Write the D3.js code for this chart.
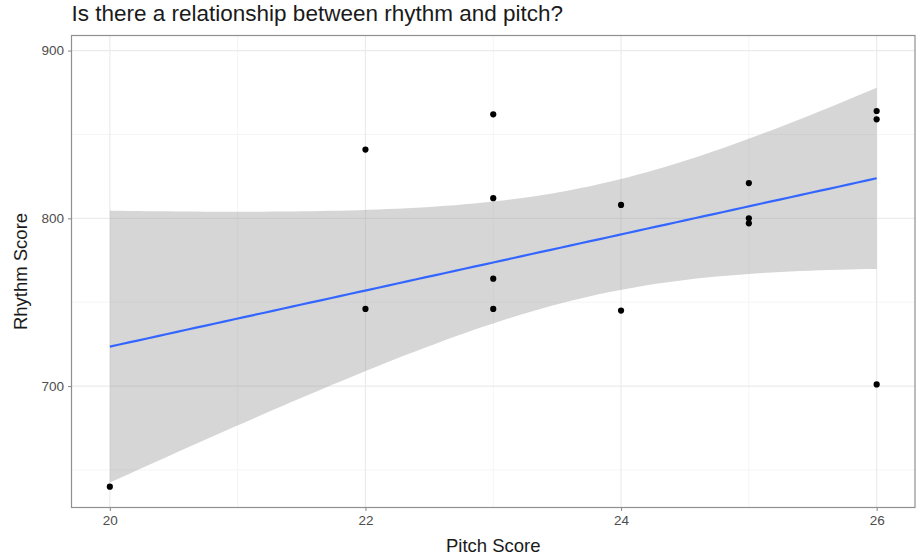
<!DOCTYPE html>
<html>
<head>
<meta charset="utf-8">
<script src="https://cdn.jsdelivr.net/npm/d3@7"></script>
<style>
  html, body { margin: 0; padding: 0; background: #fff; }
  svg { display: block; font-family: "Liberation Sans", Arial, sans-serif; }
</style>
</head>
<body>
<svg id="chart" width="917" height="557"></svg>
<script>
// Observations: pitch score and rhythm score per participant
const pitchScores  = [20, 22, 22, 23, 23, 23, 23, 24, 24, 25, 25, 25, 26, 26, 26];
const rhythmScores = [640, 841, 746, 862, 812, 764, 746, 808, 745, 821, 800, 797, 864, 859, 701];

const xTicks = [20, 22, 24, 26];
const xMinorTicks = [21, 23, 25];
const yTicks = [700, 800, 900];
const yMinorTicks = [650, 750, 850];

const titleText = "Is there a relationship between rhythm and pitch?";
const xTitle = "Pitch Score";
const yTitle = "Rhythm Score";

const xDomain = [19.7, 26.3];
const yDomain = [627.6, 909];

const svg = d3.select("#chart");
const panel = { left: 71.5, right: 915, top: 35.5, bottom: 507.5 };

const x = d3.scaleLinear().domain(xDomain).range([panel.left, panel.right]);
const y = d3.scaleLinear().domain(yDomain).range([panel.bottom, panel.top]);

// Ordinary least squares fit with a 95% confidence band
const data = pitchScores.map((p, i) => ({ p, r: rhythmScores[i] }));
const n = data.length;
const mx = d3.mean(data, d => d.p);
const my = d3.mean(data, d => d.r);
const sxx = d3.sum(data, d => (d.p - mx) ** 2);
const sxy = d3.sum(data, d => (d.p - mx) * (d.r - my));
const slope = sxy / sxx;
const intercept = my - slope * mx;
const sse = d3.sum(data, d => (d.r - (intercept + slope * d.p)) ** 2);
const sigma = Math.sqrt(sse / (n - 2));
const tCrit = 2.160369; // t quantile 0.975, 13 degrees of freedom

const [pMin, pMax] = d3.extent(pitchScores);
const fitPts = d3.range(0, 81).map(i => {
  const p = pMin + (pMax - pMin) * i / 80;
  const fit = intercept + slope * p;
  const se = sigma * Math.sqrt(1 / n + (p - mx) ** 2 / sxx);
  return { p, fit, lo: fit - tCrit * se, hi: fit + tCrit * se };
});

// Panel background and grid
svg.append("rect").attr("x", panel.left).attr("y", panel.top)
  .attr("width", panel.right - panel.left).attr("height", panel.bottom - panel.top)
  .attr("fill", "#fff");

const grid = svg.append("g");
grid.selectAll(".xminor").data(xMinorTicks).join("line")
  .attr("x1", d => x(d)).attr("x2", d => x(d))
  .attr("y1", panel.top).attr("y2", panel.bottom)
  .attr("stroke", "#f3f3f3").attr("stroke-width", 0.8);
grid.selectAll(".yminor").data(yMinorTicks).join("line")
  .attr("y1", d => y(d)).attr("y2", d => y(d))
  .attr("x1", panel.left).attr("x2", panel.right)
  .attr("stroke", "#f3f3f3").attr("stroke-width", 0.8);
grid.selectAll(".xmajor").data(xTicks).join("line")
  .attr("x1", d => x(d)).attr("x2", d => x(d))
  .attr("y1", panel.top).attr("y2", panel.bottom)
  .attr("stroke", "#ebebeb").attr("stroke-width", 1.2);
grid.selectAll(".ymajor").data(yTicks).join("line")
  .attr("y1", d => y(d)).attr("y2", d => y(d))
  .attr("x1", panel.left).attr("x2", panel.right)
  .attr("stroke", "#ebebeb").attr("stroke-width", 1.2);

// Confidence band and fitted line
svg.append("path").datum(fitPts)
  .attr("d", d3.area().x(d => x(d.p)).y0(d => y(d.lo)).y1(d => y(d.hi)))
  .attr("fill", "#999999").attr("fill-opacity", 0.4);

svg.append("path").datum(fitPts)
  .attr("d", d3.line().x(d => x(d.p)).y(d => y(d.fit)))
  .attr("fill", "none").attr("stroke", "#3366FF").attr("stroke-width", 2.2);

// Points
svg.append("g").selectAll("circle").data(data).join("circle")
  .attr("cx", d => x(d.p)).attr("cy", d => y(d.r)).attr("r", 3.1)
  .attr("fill", "#000");

// Panel border
svg.append("rect").attr("x", panel.left).attr("y", panel.top)
  .attr("width", panel.right - panel.left).attr("height", panel.bottom - panel.top)
  .attr("fill", "none").attr("stroke", "#8f8f8f").attr("stroke-width", 1.2);

// Axes
const xAxis = svg.append("g").attr("transform", `translate(0,${panel.bottom})`)
  .call(d3.axisBottom(x).tickValues(xTicks).tickFormat(d3.format("d")).tickSize(3.5).tickPadding(4));
const yAxis = svg.append("g").attr("transform", `translate(${panel.left},0)`)
  .call(d3.axisLeft(y).tickValues(yTicks).tickFormat(d3.format("d")).tickSize(3.5).tickPadding(4));
[xAxis, yAxis].forEach(a => {
  a.select(".domain").remove();
  a.selectAll(".tick line").attr("stroke", "#8f8f8f").attr("stroke-width", 1.1);
  a.selectAll(".tick text").attr("fill", "#4d4d4d")
    .style("font-size", "13.5px").style("font-family", "Liberation Sans, Arial, sans-serif");
});

// Titles
svg.append("text").attr("x", panel.left).attr("y", 21)
  .attr("fill", "#1a1a1a").style("font-size", "22.5px")
  .text(titleText);

svg.append("text").attr("x", (panel.left + panel.right) / 2).attr("y", 552)
  .attr("text-anchor", "middle").attr("fill", "#1a1a1a").style("font-size", "18.5px")
  .text(xTitle);

svg.append("text")
  .attr("transform", `translate(27,${(panel.top + panel.bottom) / 2}) rotate(-90)`)
  .attr("text-anchor", "middle").attr("fill", "#1a1a1a").style("font-size", "18.5px")
  .text(yTitle);
</script>
</body>
</html>
